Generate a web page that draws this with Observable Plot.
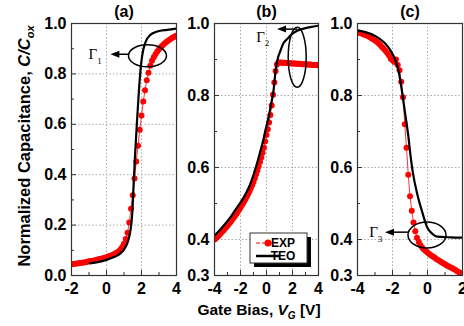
<!DOCTYPE html>
<html><head><meta charset="utf-8">
<script src="https://cdn.jsdelivr.net/npm/d3@7"></script>
<script src="https://cdn.jsdelivr.net/npm/@observablehq/plot@0.6"></script>
<style>
body{margin:0;background:#fff;}
#chart{position:relative;width:464px;height:326px;overflow:hidden;background:#fff;}
#chart svg{position:absolute;top:0;}
</style></head><body><div id="chart"></div>
<script>
// ---------- DATA ----------
const panelTitles = ["(a)", "(b)", "(c)"];
const legendLabels = ["EXP", "TEO"];

// Panel (a)
const expA_V = [-2.0,-1.9,-1.8,-1.7,-1.6,-1.5,-1.4,-1.3,-1.2,-1.1,-1.0,-0.9,-0.8,-0.7,-0.6,-0.5,-0.4,-0.3,-0.2,-0.1,
  0.0,0.1,0.2,0.3,0.4,0.5,0.6,0.7,0.8,0.9,1.0,1.1,1.2,1.3,1.4,1.5,1.6,1.7,1.8,1.9,
  2.0,2.1,2.2,2.3,2.4,2.5,2.6,2.7,2.8,2.9,3.0,3.1,3.2,3.3,3.4,3.5,3.6,3.7,3.8,3.9,4.0];
const expA_C = [0.045,0.046,0.047,0.048,0.049,0.050,0.051,0.052,0.053,0.055,0.057,0.058,0.059,0.060,0.062,0.063,0.065,0.066,0.068,0.070,
  0.072,0.075,0.077,0.080,0.083,0.087,0.091,0.096,0.103,0.113,0.126,0.145,0.170,0.210,0.265,0.318,0.385,0.452,0.515,0.578,
  0.635,0.690,0.735,0.775,0.805,0.832,0.852,0.866,0.878,0.889,0.898,0.906,0.913,0.920,0.926,0.931,0.936,0.940,0.944,0.948,0.951];
const teoA_V = [-0.95,-0.5,0.0,0.4,0.8,1.0,1.18,1.3,1.37,1.47,1.56,1.65,1.75,1.85,1.95,2.04,2.23,2.51,2.9,3.47,4.0];
const teoA_C = [0.048,0.053,0.062,0.072,0.088,0.103,0.126,0.155,0.179,0.245,0.377,0.5,0.62,0.73,0.82,0.873,0.926,0.955,0.968,0.975,0.98];

// Panel (b)
const expB_V = [-4.0,-3.9,-3.8,-3.7,-3.6,-3.5,-3.4,-3.3,-3.2,-3.1,-3.0,-2.9,-2.8,-2.7,-2.6,-2.5,-2.4,-2.3,-2.2,-2.1,
  -2.0,-1.9,-1.8,-1.7,-1.6,-1.5,-1.4,-1.3,-1.2,-1.1,-1.0,-0.9,-0.8,-0.7,-0.6,-0.5,-0.4,-0.3,-0.2,-0.1,
  0.0,0.1,0.2,0.3,0.4,0.5,0.6,0.7,0.8,0.9,1.0,1.1,1.2,1.3,1.4,1.5,1.6,1.7,1.8,1.9,
  2.0,2.1,2.2,2.3,2.4,2.5,2.6,2.7,2.8,2.9,3.0,3.1,3.2,3.3,3.4,3.5,3.6,3.7,3.8,3.9,4.0];
const expB_C = [0.400,0.403,0.407,0.410,0.414,0.418,0.422,0.426,0.430,0.434,0.438,0.443,0.447,0.452,0.457,0.462,0.467,0.472,0.478,0.483,
  0.489,0.495,0.501,0.507,0.513,0.520,0.527,0.535,0.543,0.551,0.560,0.570,0.581,0.592,0.603,0.615,0.628,0.641,0.655,0.672,
  0.690,0.706,0.725,0.746,0.772,0.802,0.836,0.868,0.886,0.891,0.892,0.892,0.891,0.891,0.891,0.890,0.890,0.890,0.890,0.889,
  0.889,0.889,0.889,0.888,0.888,0.888,0.888,0.887,0.887,0.887,0.887,0.886,0.886,0.886,0.886,0.885,0.885,0.885,0.885,0.884,0.884];
const teoB_V = [-4.0,-3.5,-2.77,-2.25,-1.75,-1.35,-0.98,-0.7,-0.46,-0.25,-0.08,0.1,0.26,0.4,0.51,0.69,0.85,1.08,1.3,1.59,2.0,2.36,3.0,3.38,4.0];
const teoB_C = [0.411,0.43,0.462,0.49,0.517,0.545,0.582,0.615,0.647,0.675,0.703,0.73,0.758,0.785,0.805,0.865,0.9,0.925,0.945,0.957,0.972,0.98,0.987,0.99,0.994];

// Panel (c)
const expC_V = [-4.0,-3.9,-3.8,-3.7,-3.6,-3.5,-3.4,-3.3,-3.2,-3.1,-3.0,-2.9,-2.8,-2.7,-2.6,-2.5,-2.4,-2.3,-2.2,-2.1,
  -2.0,-1.9,-1.8,-1.7,-1.6,-1.5,-1.4,-1.3,-1.2,-1.1,-1.0,-0.9,-0.8,-0.7,-0.6,-0.5,-0.4,-0.3,-0.2,-0.1,
  0.0,0.1,0.2,0.3,0.4,0.5,0.6,0.7,0.8,0.9,1.0,1.1,1.2,1.3,1.4,1.5,1.6,1.7,1.8,1.9,2.0];
const expC_C = [0.975,0.974,0.973,0.971,0.969,0.967,0.965,0.962,0.959,0.956,0.953,0.949,0.945,0.940,0.935,0.930,0.924,0.918,0.911,0.902,
  0.898,0.893,0.900,0.885,0.870,0.838,0.795,0.720,0.655,0.580,0.520,0.480,0.447,0.423,0.405,0.393,0.384,0.377,0.372,0.368,
  0.364,0.360,0.356,0.353,0.350,0.346,0.343,0.340,0.337,0.334,0.331,0.328,0.326,0.323,0.321,0.318,0.315,0.312,0.309,0.306,0.303];
const teoC_V = [-4.0,-3.54,-2.97,-2.49,-2.11,-1.83,-1.64,-1.45,-1.26,-1.1,-0.97,-0.85,-0.59,-0.3,-0.02,0.27,0.55,1.31,2.0];
const teoC_C = [0.981,0.976,0.965,0.948,0.925,0.897,0.865,0.809,0.744,0.689,0.633,0.59,0.527,0.476,0.434,0.416,0.408,0.406,0.405];

// Tick values
const ticksA_x = [-2, 0, 2, 4], minorA_x = [-1, 1, 3];
const ticksA_y = [0, 0.2, 0.4, 0.6, 0.8, 1.0], minorA_y = [0.1, 0.3, 0.5, 0.7, 0.9];
const ticksB_x = [-4, -2, 0, 2, 4], minorB_x = [-3, -1, 1, 3];
const ticksC_x = [-4, -2, 0, 2], minorC_x = [-3, -1, 1];
const ticksBC_y = [0.3, 0.4, 0.6, 0.8, 1.0], minorBC_y = [0.5, 0.7, 0.9];

// Γ annotations (data coordinates)
const gammaA = {sub: "1", cx: 2.37, cy: 0.87, ax1: 1.29, ax2: 0.25, ay: 0.876, lx: -0.62, ly: 0.876, rx: 19, ry: 11};
const gammaB = {sub: "2", cx: 2.4, cy: 0.905, ax1: 2.4, ax2: 0.85, ay: 0.983, lx: -0.25, ly: 0.962, rx: 9, ry: 30};
const gammaC = {sub: "3", cx: 0.0, cy: 0.411, ax1: -1.09, ax2: -2.4, ay: 0.419, lx: -2.93, ly: 0.419, rx: 19, ry: 13};

// ---------- DRAW ----------
const FONT = "'Liberation Sans', Arial, Helvetica, sans-serif";
const zip = (V, C) => V.map((v, i) => ({v, c: C[i]}));

function gamma(g) {
  return (index, scales) => {
    const {x, y} = scales;
    const G = d3.create("svg:g").attr("fill", "none").attr("stroke", "#000");
    G.append("ellipse").attr("cx", x(g.cx)).attr("cy", y(g.cy)).attr("rx", g.rx).attr("ry", g.ry).attr("stroke-width", 1.5);
    const tip = x(g.ax2), yy = y(g.ay);
    G.append("line").attr("x1", x(g.ax1)).attr("x2", tip + 6).attr("y1", yy).attr("y2", yy).attr("stroke-width", 1.5);
    G.append("path").attr("d", `M${tip},${yy}L${tip + 9},${yy - 3.5}L${tip + 9},${yy + 3.5}Z`).attr("fill", "#000").attr("stroke", "none");
    const t = G.append("text").attr("x", x(g.lx)).attr("y", y(g.ly)).attr("fill", "#000").attr("stroke", "none")
      .attr("font-family", "'Liberation Serif', 'Times New Roman', serif").attr("font-weight", "normal")
      .attr("font-size", 15).attr("text-anchor", "middle").attr("dy", "0.35em");
    t.append("tspan").text("Γ");
    t.append("tspan").attr("font-size", 9).attr("dy", "0.5em").text(g.sub);
    return G.node();
  };
}

function legend() {
  return (index, scales, values, dims) => {
    const R = dims.width - dims.marginRight, B = dims.height - dims.marginBottom;
    const G = d3.create("svg:g");
    G.append("rect").attr("x", R - 64).attr("y", B - 38).attr("width", 57).attr("height", 30).attr("fill", "#000");
    G.append("rect").attr("x", R - 68).attr("y", B - 42).attr("width", 57).attr("height", 30).attr("fill", "#fff").attr("stroke", "#333").attr("stroke-width", 1);
    const y1 = B - 32, y2 = B - 19;
    G.append("line").attr("x1", R - 62).attr("x2", R - 38).attr("y1", y1).attr("y2", y1).attr("stroke", "#f00").attr("stroke-width", 1).attr("stroke-dasharray", "4,2");
    G.append("circle").attr("cx", R - 50).attr("cy", y1).attr("r", 3.5).attr("fill", "#f00");
    G.append("line").attr("x1", R - 62).attr("x2", R - 38).attr("y1", y2).attr("y2", y2).attr("stroke", "#000").attr("stroke-width", 2.5);
    [[legendLabels[0], y1], [legendLabels[1], y2]].forEach(([s, yy]) =>
      G.append("text").attr("x", R - 35).attr("y", yy).attr("dy", "0.36em").attr("font-size", 12).attr("font-weight", "bold")
        .attr("font-family", FONT).attr("fill", "#000").text(s));
    return G.node();
  };
}

function panel(o) {
  const H = 326, mt = 23, mb = 51;
  const fw = o.width - o.ml - o.mr, fh = H - mt - mb;
  const exp = zip(o.expV, o.expC), teo = zip(o.teoV, o.teoC);
  const marks = [
    Plot.ruleY(o.yGrid, {y: d => d, stroke: "#aaa", strokeDasharray: "1.5,2", strokeWidth: 1}),
    Plot.ruleX(o.xGrid, {x: d => d, stroke: "#aaa", strokeDasharray: "1.5,2", strokeWidth: 1}),
    Plot.ruleY(o.yMajor, {y: d => d, insetRight: fw - 5, stroke: "#333"}),
    Plot.ruleY(o.yMinor, {y: d => d, insetRight: fw - 3, stroke: "#333"}),
    Plot.ruleX(o.xMajor, {x: d => d, insetTop: fh - 5, stroke: "#333"}),
    Plot.ruleX(o.xMinor, {x: d => d, insetTop: fh - 3, stroke: "#333"}),
    Plot.line(exp, {x: "v", y: "c", stroke: "#f00", strokeWidth: 0.8, clip: true}),
    Plot.dot(exp, {x: "v", y: "c", r: 3, fill: "#f00", clip: true}),
    Plot.line(teo, {x: "v", y: "c", stroke: "#000", strokeWidth: 2.2, curve: "monotone-x", clip: true}),
    Plot.frame({stroke: "#333", strokeWidth: 1.2}),
    Plot.text([o.title], {frameAnchor: "top", lineAnchor: "middle", dy: -12, text: d => d, fontSize: 16, fontWeight: "bold", fill: "#000"}),
    gamma(o.gamma),
    ...(o.extra || [])
  ];
  const svg = Plot.plot({
    width: o.width, height: H, marginLeft: o.ml, marginRight: o.mr, marginTop: mt, marginBottom: mb,
    style: {background: "transparent", overflow: "visible", fontFamily: FONT, fontSize: "16px", fontWeight: "bold", color: "#000"},
    x: {domain: o.xDomain, ticks: o.xMajor, tickFormat: d => String(d), tickSize: 0, tickPadding: 7, label: null},
    y: {domain: o.yDomain, ticks: o.yMajor, tickFormat: d3.format(".1f"), tickSize: 0, tickPadding: 5, label: null},
    marks
  });
  svg.style.left = o.left + "px";
  return svg;
}

const chart = document.getElementById("chart");
chart.append(panel({left: 0, width: 180, ml: 71, mr: 4, title: panelTitles[0],
  xDomain: [-2, 4], yDomain: [0, 1], xMajor: ticksA_x, xMinor: minorA_x, yMajor: ticksA_y, yMinor: minorA_y,
  xGrid: [0, 2], yGrid: [0.2, 0.4, 0.6, 0.8], expV: expA_V, expC: expA_C, teoV: teoA_V, teoC: teoA_C, gamma: gammaA}));
chart.append(panel({left: 180, width: 142, ml: 34, mr: 4, title: panelTitles[1],
  xDomain: [-4, 4], yDomain: [0.3, 1], xMajor: ticksB_x, xMinor: minorB_x, yMajor: ticksBC_y, yMinor: minorBC_y,
  xGrid: [-2, 0, 2], yGrid: [0.4, 0.6, 0.8], expV: expB_V, expC: expB_C, teoV: teoB_V, teoC: teoB_C, gamma: gammaB, extra: [legend()]}));
chart.append(panel({left: 322, width: 142, ml: 35, mr: 2, title: panelTitles[2],
  xDomain: [-4, 2], yDomain: [0.3, 1], xMajor: ticksC_x, xMinor: minorC_x, yMajor: ticksBC_y, yMinor: minorBC_y,
  xGrid: [-2, 0], yGrid: [0.4, 0.6, 0.8], expV: expC_V, expC: expC_C, teoV: teoC_V, teoC: teoC_C, gamma: gammaC}));

// Axis titles
const ov = d3.create("svg").attr("width", 464).attr("height", 326).style("left", "0px").style("pointer-events", "none");
const yl = ov.append("text").attr("transform", "translate(30,146) rotate(-90)").attr("text-anchor", "middle")
  .attr("font-family", FONT).attr("font-weight", "bold").attr("font-size", 16.5).attr("fill", "#000");
yl.append("tspan").text("Normalized Capacitance, ");
yl.append("tspan").attr("font-style", "italic").text("C/C");
yl.append("tspan").attr("font-style", "italic").attr("font-size", 11).attr("dy", 4).text("ox");
const xl = ov.append("text").attr("x", 259).attr("y", 315).attr("text-anchor", "middle")
  .attr("font-family", FONT).attr("font-weight", "bold").attr("font-size", 15.5).attr("fill", "#000");
xl.append("tspan").text("Gate Bias, ");
xl.append("tspan").attr("font-style", "italic").text("V");
xl.append("tspan").attr("font-style", "italic").attr("font-size", 10).attr("dy", 4).text("G");
xl.append("tspan").attr("dy", -4).text(" [V]");
chart.append(ov.node());
</script></body></html>
